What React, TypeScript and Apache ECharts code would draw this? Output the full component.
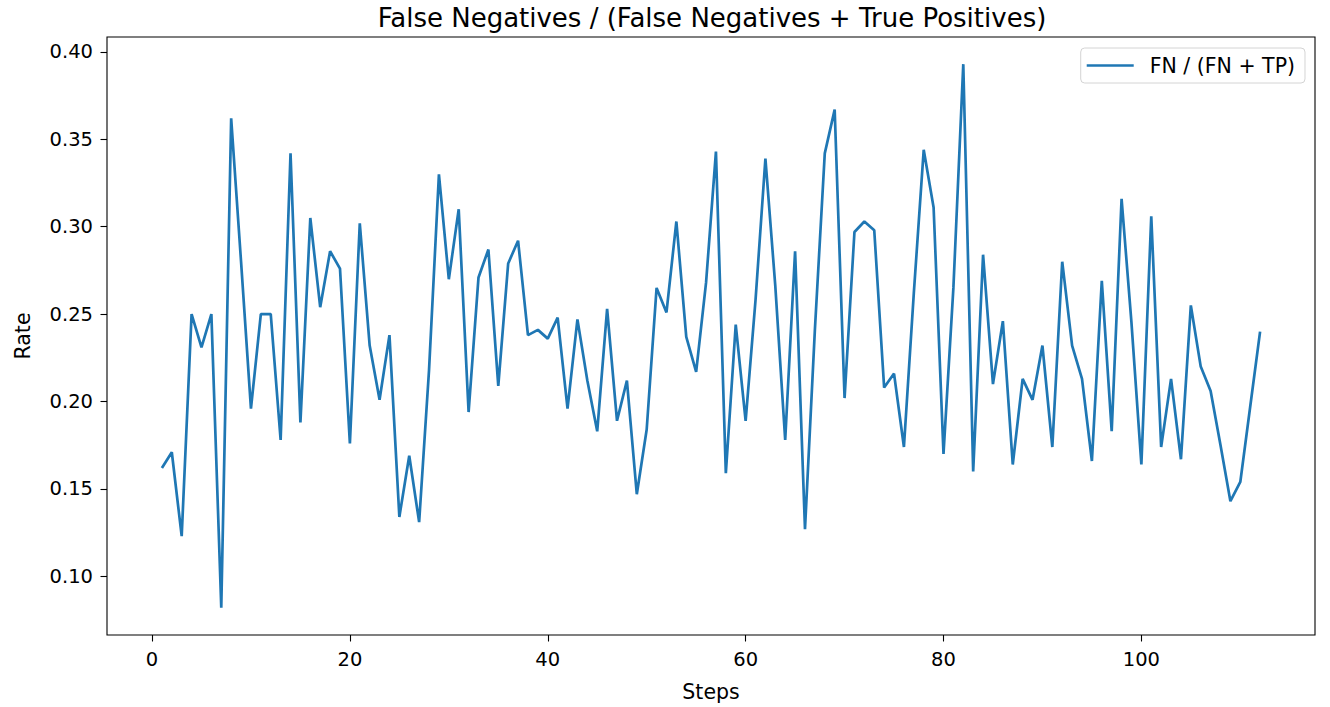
import React, { useEffect, useRef } from "react";
import * as echarts from "echarts";

const titleText = "False Negatives / (False Negatives + True Positives)";
const seriesName = "FN / (FN + TP)";
const xName = "Steps";
const yName = "Rate";

const steps = [
  1, 2, 3, 4, 5, 6, 7, 8, 9, 10, 11, 12, 13, 14, 15, 16, 17, 18, 19, 20,
  21, 22, 23, 24, 25, 26, 27, 28, 29, 30, 31, 32, 33, 34, 35, 36, 37, 38, 39, 40,
  41, 42, 43, 44, 45, 46, 47, 48, 49, 50, 51, 52, 53, 54, 55, 56, 57, 58, 59, 60,
  61, 62, 63, 64, 65, 66, 67, 68, 69, 70, 71, 72, 73, 74, 75, 76, 77, 78, 79, 80,
  81, 82, 83, 84, 85, 86, 87, 88, 89, 90, 91, 92, 93, 94, 95, 96, 97, 98, 99, 100,
  101, 102, 103, 104, 105, 106, 107, 108, 109, 110, 111, 112,
];

const rates = [
  0.162, 0.171, 0.123, 0.25, 0.231, 0.25, 0.082, 0.362, 0.28, 0.196,
  0.25, 0.25, 0.178, 0.342, 0.188, 0.305, 0.254, 0.286, 0.276, 0.176,
  0.302, 0.232, 0.201, 0.238, 0.134, 0.169, 0.131, 0.218, 0.33, 0.27,
  0.31, 0.194, 0.271, 0.287, 0.209, 0.279, 0.292, 0.238, 0.241, 0.236,
  0.248, 0.196, 0.247, 0.212, 0.183, 0.253, 0.189, 0.212, 0.147, 0.184,
  0.265, 0.251, 0.303, 0.237, 0.217, 0.268, 0.343, 0.159, 0.244, 0.189,
  0.258, 0.339, 0.266, 0.178, 0.286, 0.127, 0.241, 0.342, 0.367, 0.202,
  0.297, 0.303, 0.298, 0.208, 0.216, 0.174, 0.262, 0.344, 0.311, 0.17,
  0.265, 0.393, 0.16, 0.284, 0.21, 0.246, 0.164, 0.213, 0.201, 0.232,
  0.174, 0.28, 0.232, 0.213, 0.166, 0.269, 0.183, 0.316, 0.245, 0.164,
  0.306, 0.174, 0.213, 0.167, 0.255, 0.22, 0.206, 0.175, 0.143, 0.154,
  0.197, 0.24,
];

const xTicks = [0, 20, 40, 60, 80, 100];
const yTicks = [0.1, 0.15, 0.2, 0.25, 0.3, 0.35, 0.4];

const FONT = "DejaVu Sans";

export default function App() {
  const ref = useRef<HTMLDivElement>(null);

  useEffect(() => {
    if (!ref.current) return;
    const chart = echarts.init(ref.current, undefined, { renderer: "svg" });

    const xMinD = Math.min(...steps);
    const xMaxD = Math.max(...steps);
    const yMinD = Math.min(...rates);
    const yMaxD = Math.max(...rates);
    const xm = (xMaxD - xMinD) * 0.05;
    const ym = (yMaxD - yMinD) * 0.05;

    const data = steps.map((s, i) => [s, rates[i]]);

    chart.setOption({
      animation: false,
      backgroundColor: "#ffffff",
      title: {
        text: titleText,
        left: 707,
        top: 0,
        textAlign: "center",
        textStyle: {
          fontFamily: FONT,
          fontSize: 26,
          fontWeight: "normal",
          color: "#000",
        },
      },
      legend: {
        data: [seriesName],
        right: 25,
        top: 48,
        icon: "rect",
        itemWidth: 47,
        itemHeight: 2.6,
        padding: [7, 10, 7, 6],
        borderColor: "#d4d4d4",
        borderWidth: 1,
        borderRadius: 4,
        backgroundColor: "rgba(255,255,255,0.8)",
        textStyle: {
          fontFamily: FONT,
          fontSize: 20.5,
          color: "#000",
          padding: [0, 0, 0, 11],
        },
      },
      grid: {
        left: 107,
        right: 15,
        top: 37,
        bottom: 70,
        show: true,
        borderColor: "#000",
        borderWidth: 1.1,
        backgroundColor: "transparent",
      },
      xAxis: {
        type: "value",
        min: xMinD - xm,
        max: xMaxD + xm,
        name: xName,
        nameLocation: "middle",
        nameGap: 46,
        nameTextStyle: { fontFamily: FONT, fontSize: 20.5, color: "#000" },
        axisLine: { show: false, onZero: false },
        splitLine: { show: false },
        axisTick: {
          show: true,
          length: 6.5,
          inside: false,
          customValues: xTicks,
          lineStyle: { color: "#000", width: 1.1 },
        },
        axisLabel: {
          customValues: xTicks,
          margin: 14,
          fontFamily: FONT,
          fontSize: 19.5,
          color: "#000",
          formatter: (v: number) => String(v),
        },
      },
      yAxis: {
        type: "value",
        min: yMinD - ym,
        max: yMaxD + ym,
        name: yName,
        nameLocation: "middle",
        nameGap: 74,
        nameRotate: 90,
        nameTextStyle: { fontFamily: FONT, fontSize: 20.5, color: "#000" },
        axisLine: { show: false, onZero: false },
        splitLine: { show: false },
        axisTick: {
          show: true,
          length: 6.5,
          inside: false,
          customValues: yTicks,
          lineStyle: { color: "#000", width: 1.1 },
        },
        axisLabel: {
          customValues: yTicks,
          margin: 14,
          fontFamily: FONT,
          fontSize: 19.5,
          color: "#000",
          formatter: (v: number) => v.toFixed(2),
        },
      },
      series: [
        {
          name: seriesName,
          type: "line",
          data,
          symbol: "none",
          showSymbol: false,
          color: "#1f77b4",
          lineStyle: { color: "#1f77b4", width: 2.7 },
        },
      ],
    });

    return () => chart.dispose();
  }, []);

  return (
    <div
      ref={ref}
      style={{ position: "absolute", left: 0, top: 0, width: 1330, height: 707 }}
    />
  );
}
